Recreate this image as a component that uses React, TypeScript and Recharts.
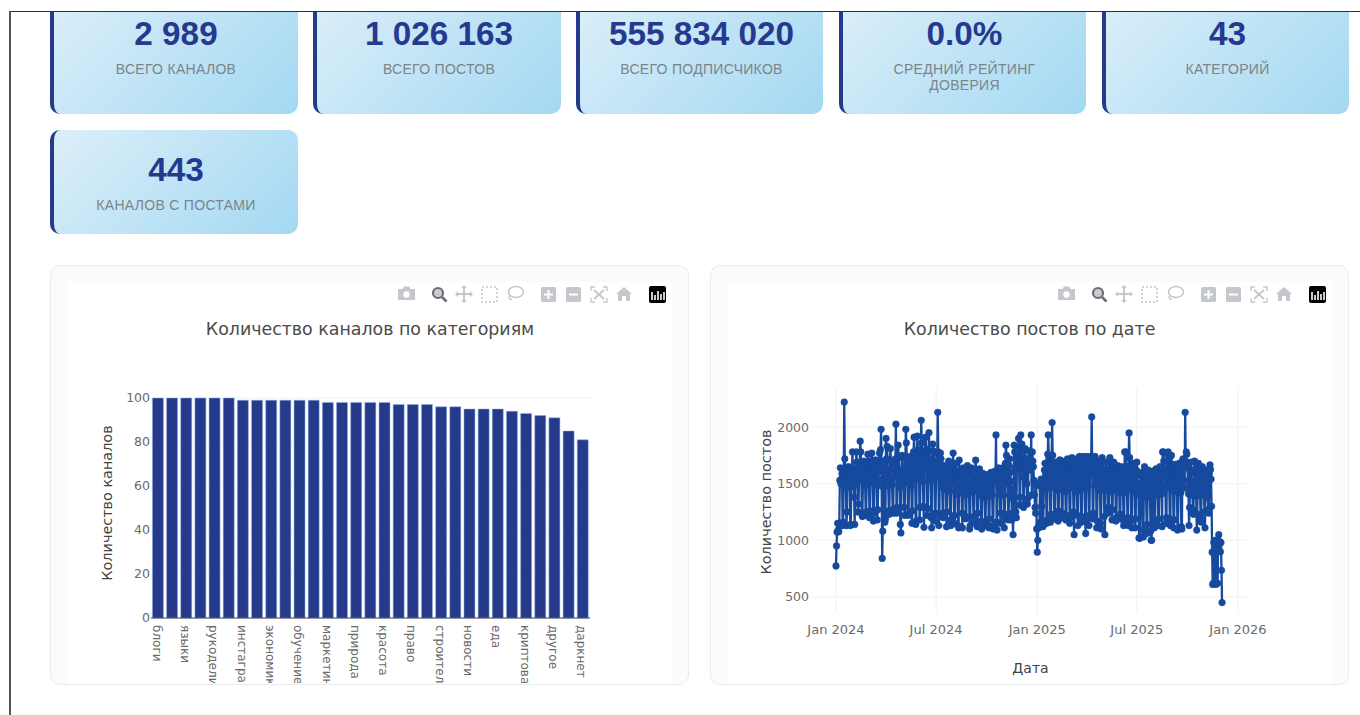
import { Bar, BarChart, CartesianGrid, Line, LineChart, XAxis, YAxis } from "recharts"

const statValues = ["2 989", "1 026 163", "555 834 020", "0.0%", "43", "443"]
const statLabels = [
  "ВСЕГО КАНАЛОВ",
  "ВСЕГО ПОСТОВ",
  "ВСЕГО ПОДПИСЧИКОВ",
  "СРЕДНИЙ РЕЙТИНГ ДОВЕРИЯ",
  "КАТЕГОРИЙ",
  "КАНАЛОВ С ПОСТАМИ",
]

// every second bar is labelled in the original, the others are unknown
const categories = [
  "блоги", "", "языки", "", "рукоделие", "", "инстаграм", "", "экономика", "", "обучение", "",
  "маркетинг", "", "природа", "", "красота", "", "право", "", "строительство", "", "новости", "",
  "еда", "", "криптовалюта", "", "другое", "", "даркнет",
]
const channelCounts = [
  100, 100, 100, 100, 100, 100, 99, 99, 99, 99, 99, 99, 98, 98, 98, 98, 98, 97, 97, 97, 96, 96, 95,
  95, 95, 94, 93, 92, 91, 85, 81,
]
const channelTicks = [0, 20, 40, 60, 80, 100]

const DAY = 86400000
const firstPostDay = Date.UTC(2024, 0, 1)
const postTicks = [500, 1000, 1500, 2000]
const dateTicks = [
  Date.UTC(2024, 0, 1),
  Date.UTC(2024, 6, 1),
  Date.UTC(2025, 0, 1),
  Date.UTC(2025, 6, 1),
  Date.UTC(2026, 0, 1),
]
const dateTickLabels = ["Jan 2024", "Jul 2024", "Jan 2025", "Jul 2025", "Jan 2026"]

// daily posts, one row per week (Mon..Sun)
const postCounts = [
  773, 950, 1073, 1150, 1090, 1075, 1150,
  1530, 1640, 1500, 1520, 1590, 1130, 1160,
  1480, 2221, 1720, 1640, 1560, 1130, 1250,
  1620, 1510, 1650, 1580, 1470, 1130, 1140,
  1590, 1640, 1780, 1550, 1480, 1380, 1140,
  1610, 1500, 1780, 1690, 1530, 1250, 1320,
  1560, 1640, 1875, 1780, 1600, 1240, 1210,
  1520, 1660, 1700, 1610, 1490, 1220, 1250,
  1550, 1680, 1760, 1620, 1500, 1200, 1260,
  1590, 1700, 1770, 1640, 1530, 1170, 1240,
  1600, 1680, 1710, 1560, 1500, 1180, 1270,
  1540, 1660, 1770, 1610, 1800, 1980, 1480,
  840, 1080, 1660, 1700, 1550, 1160, 1190,
  1900, 1720, 1830, 1600, 1480, 1260, 1230,
  1620, 1810, 1700, 1540, 1490, 1270, 1240,
  1560, 1680, 1640, 1720, 2025, 1240, 1290,
  1610, 1840, 1740, 1620, 1470, 1140, 1065,
  1600, 1750, 1730, 1540, 1500, 1290, 1220,
  1640, 1980, 1860, 1680, 1520, 1230, 1220,
  1560, 1700, 1740, 1620, 1480, 1150, 1260,
  1690, 1780, 1910, 1750, 1540, 1140, 1170,
  1700, 1920, 1780, 1800, 1610, 1180, 1290,
  1770, 2060, 1860, 1750, 1520, 1300, 1115,
  1680, 1790, 1910, 1800, 1640, 1220, 1280,
  1700, 1950, 1790, 1680, 1530, 1200, 1110,
  1720, 1850, 1790, 1640, 1560, 1170, 1240,
  1560, 1770, 1700, 2130, 1780, 1130, 1220,
  1680, 1770, 1720, 1560, 1470, 1240, 1200,
  1600, 1660, 1610, 1540, 1450, 1120, 1250,
  1640, 1600, 1700, 1510, 1430, 1180, 1130,
  1620, 1590, 1650, 1770, 1500, 1220, 1150,
  1590, 1680, 1560, 1520, 1410, 1130, 1110,
  1708, 1620, 1560, 1500, 1440, 1240, 1110,
  1560, 1640, 1600, 1490, 1400, 1190, 1210,
  1640, 1660, 1570, 1480, 1420, 1100, 1130,
  1610, 1640, 1580, 1500, 1430, 1210, 1160,
  1590, 1620, 1708, 1540, 1450, 1120, 1240,
  1550, 1600, 1630, 1480, 1400, 1170, 1100,
  1570, 1590, 1560, 1470, 1380, 1150, 1130,
  1530, 1580, 1540, 1460, 1390, 1110, 1190,
  1560, 1590, 1600, 1480, 1400, 1130, 1100,
  1520, 1570, 1610, 1550, 1930, 1160, 1090,
  1560, 1640, 1580, 1490, 1410, 1150, 1240,
  1550, 1620, 1640, 1500, 1400, 1110, 1200,
  1680, 1840, 1750, 1600, 1500, 1230, 1180,
  1660, 1720, 1600, 1520, 1380, 1180, 1240,
  1050, 1450, 1840, 1780, 1640, 1250, 1200,
  1700, 1800, 1760, 1900, 1640, 1310, 1380,
  1930, 1780, 1850, 1700, 1560, 1290, 1320,
  1720, 1810, 1700, 1620, 1500, 1320, 1370,
  1690, 1790, 1730, 1620, 1640, 1930, 1400,
  1780, 1700, 1650, 1530, 1400, 1290, 1240,
  1500, 1100, 895, 1000, 1120, 1110, 1150,
  1480, 1160, 1540, 1300, 1440, 1120, 1130,
  1520, 1620, 1680, 1580, 1470, 1150, 1180,
  1760, 1930, 1720, 1580, 1460, 1160, 1230,
  1680, 2040, 1750, 1640, 1500, 1230, 1190,
  1640, 1690, 1620, 1530, 1440, 1170, 1260,
  1600, 1710, 1660, 1560, 1450, 1200, 1240,
  1650, 1640, 1700, 1550, 1430, 1180, 1220,
  1590, 1720, 1650, 1560, 1460, 1150, 1200,
  1620, 1680, 1730, 1610, 1480, 1250, 1050,
  1640, 1700, 1610, 1520, 1430, 1220, 1130,
  1730, 1650, 1740, 1590, 1470, 1160, 1210,
  1650, 1740, 1680, 1570, 1460, 1170, 1060,
  1610, 1740, 1690, 1600, 1480, 1130, 1220,
  1660, 1740, 1690, 2090, 1590, 1190, 1240,
  1640, 1720, 1740, 1580, 1490, 1110, 1170,
  1680, 1700, 1630, 1550, 1440, 1150, 1100,
  1640, 1730, 1590, 1540, 1470, 1210, 1050,
  1590, 1690, 1620, 1520, 1440, 1240, 1290,
  1600, 1730, 1640, 1540, 1430, 1180, 1270,
  1650, 1690, 1610, 1530, 1450, 1170, 1200,
  1580, 1660, 1640, 1510, 1420, 1190, 1230,
  1620, 1650, 1600, 1530, 1420, 1130, 1160,
  1780, 1600, 1780, 1560, 1440, 1200, 1130,
  1650, 1948, 1730, 1600, 1460, 1170, 1110,
  1640, 1680, 1610, 1500, 1430, 1110, 1190,
  1620, 1690, 1580, 1500, 1410, 1020, 1020,
  1020, 1570, 1600, 1510, 1400, 1090, 1030,
  1560, 1650, 1590, 1480, 1380, 1060, 1140,
  1540, 1620, 1560, 1470, 1390, 1080, 1000,
  1000, 1580, 1610, 1500, 1420, 1110, 1170,
  1550, 1630, 1620, 1520, 1400, 1130, 1190,
  1600, 1650, 1580, 1490, 1410, 1120, 1780,
  1780, 1700, 1640, 1550, 1450, 1150, 1200,
  1760, 1700, 1780, 1620, 1470, 1190, 1130,
  1640, 1750, 1670, 1560, 1440, 1110, 1180,
  1620, 1670, 1610, 1520, 1430, 1090, 1100,
  1590, 1680, 1620, 1510, 1420, 1120, 1100,
  1700, 1720, 1640, 1530, 1460, 2130, 1680,
  1780, 1760, 1640, 1520, 1410, 1130, 1290,
  1620, 1690, 1600, 1500, 1400, 1270, 1230,
  1610, 1700, 1630, 1510, 1390, 1090, 1230,
  1590, 1680, 1610, 1500, 1430, 1200, 1160,
  1570, 1650, 1590, 1480, 1400, 1250, 1110,
  1580, 1620, 1560, 1470, 1380, 1270, 1240,
  1590, 1665, 1625, 1540, 1300, 895, 610,
  620, 980, 990, 1000, 620, 610, 1000,
  960, 620, 1000, 1050, 960, 985, 900,
  980, 735, 450,
]

const barData = categories.map((name, i) => ({ name, count: channelCounts[i] }))
const lineData = postCounts.map((posts, i) => ({ day: firstPostDay + i * DAY, posts }))

const plotFont = "'DejaVu Sans', Verdana, sans-serif"
const xTickStyle = { fontSize: 13, fill: "#6a6a6a", fontFamily: plotFont }
const yTickStyle = { fontSize: 12.5, fill: "#6a6a6a", fontFamily: plotFont }

const cardBoxes = [
  { left: 50, top: -6, width: 248, height: 120 },
  { left: 313, top: -6, width: 248, height: 120 },
  { left: 576, top: -6, width: 247, height: 120 },
  { left: 839, top: -6, width: 247, height: 120 },
  { left: 1102, top: -6, width: 247, height: 120 },
  { left: 50, top: 130, width: 248, height: 104 },
]

function StatCard({ index }: { index: number }) {
  const box = cardBoxes[index]
  return (
    <div
      style={{
        position: "absolute",
        ...box,
        boxSizing: "border-box",
        borderLeft: "4px solid #253a8a",
        borderRadius: 10,
        background: "linear-gradient(135deg, #dceff9 0%, #a3d8f2 100%)",
        textAlign: "center",
        fontFamily: "'Liberation Sans', Arial, sans-serif",
      }}
    >
      <div style={{ marginTop: 21, fontSize: 33.3, lineHeight: "38px", fontWeight: 700, color: "#25398f" }}>
        {statValues[index]}
      </div>
      <div style={{ margin: "8px 30px 0", fontSize: 14, lineHeight: "16px", letterSpacing: 0.3, color: "#7b8489" }}>
        {statLabels[index]}
      </div>
    </div>
  )
}

function ModeBar({ left }: { left: number }) {
  const grey = "#c4c8cc"
  return (
    <svg width={280} height={24} style={{ position: "absolute", left, top: 283 }}>
      {/* camera */}
      <path d="M3 6h4.5l1.5-2.5h5L15.500 6H20v11H3z" fill={grey} />
      <circle cx={11.500} cy={11.500} r={3.2} fill="#fff" />
      {/* zoom, active */}
      <circle cx={43} cy={10} r={5} fill="#c9ccd0" stroke="#6b6f74" strokeWidth={2.2} />
      <path d="M47 14l4.500 4.500" stroke="#6b6f74" strokeWidth={2.6} />
      {/* pan */}
      <path d="M69 4v14M62 11h14" stroke={grey} strokeWidth={2} />
      <path d="M69 2l3 3h-6zM69 20l3-3h-6zM60 11l3-3v6zM78 11l-3-3v6z" fill={grey} />
      <g transform="translate(1 0)">
        {/* box select */}
        <rect x={86} y={4} width={15} height={15} fill="none" stroke={grey} strokeWidth={1.6} strokeDasharray="2 2" />
        {/* lasso */}
        <ellipse cx={120} cy={9} rx={7.5} ry={5.500} fill="none" stroke={grey} strokeWidth={1.6} />
        <path d="M114 12c-2 3 0 5 2 4" fill="none" stroke={grey} strokeWidth={1.4} />
        {/* zoom in, out */}
        <rect x={145} y={4} width={15} height={15} rx={1.5} fill={grey} />
        <path d="M148 11.500h9M152.500 7v9" stroke="#fff" strokeWidth={2} />
        <rect x={170} y={4} width={15} height={15} rx={1.5} fill={grey} />
        <path d="M173 11.500h9" stroke="#fff" strokeWidth={2} />
        {/* autoscale */}
        <path d="M195 8V4h4M207 4h4v4M195 15v4h4M211 15v4h-4" fill="none" stroke={grey} strokeWidth={1.3} />
        <path d="M198 7l10 9M208 7l-10 9" stroke={grey} strokeWidth={1.8} />
        {/* home */}
        <path d="M220 11l8-7 8 7h-2v7h-4v-5h-4v5h-4v-7z" fill={grey} />
        {/* plotly logo */}
        <rect x={253} y={3} width={17} height={17} rx={2} fill="#000" />
        <path d="M256 9v8M259 12v5M262 8v9M265 11v6M268 9v8" stroke="#fff" strokeWidth={1.6} />
      </g>
    </svg>
  )
}

function Panel({ left }: { left: number }) {
  return (
    <div
      style={{
        position: "absolute",
        left,
        top: 265,
        width: 639,
        height: 420,
        boxSizing: "border-box",
        border: "1px solid #e9ecef",
        borderRadius: 10,
        background: "#fafbfb",
      }}
    >
      <div style={{ position: "absolute", left: 16, top: 16, right: 15, bottom: 0, background: "#fff" }} />
    </div>
  )
}

function PlotTitle({ left, width, text }: { left: number; width: number; text: string }) {
  return (
    <div
      style={{
        position: "absolute",
        left,
        top: 318,
        width,
        textAlign: "center",
        fontFamily: plotFont,
        fontSize: 17.4,
        lineHeight: "22px",
        color: "#4a4a4a",
      }}
    >
      {text}
    </div>
  )
}

function CategoryTick({ x, y, payload }: any) {
  return (
    <text
      transform={`translate(${x - 1.5},${y}) rotate(90)`}
      dominantBaseline="central"
      fontSize={12}
      fill="#6a6a6a"
      fontFamily={plotFont}
    >
      {payload.value}
    </text>
  )
}

function AxisTitle({ titleX, titleY, text }: { titleX: number; titleY: number; text: string }) {
  return (
    <text
      transform={`translate(${titleX},${titleY}) rotate(-90)`}
      textAnchor="middle"
      dominantBaseline="central"
      fontSize={14.4}
      fill="#444"
      fontFamily={plotFont}
    >
      {text}
    </text>
  )
}

export default function App() {
  return (
    <div style={{ position: "absolute", left: 0, top: 0, width: 1360, height: 715, background: "#fff", overflow: "hidden" }}>
      <div style={{ position: "absolute", left: 9, top: 11, right: 0, bottom: 0, overflow: "hidden", borderLeft: "2px solid #555", borderTop: "1.5px solid #333" }}>
        <div style={{ position: "absolute", left: -11, top: -12.5, width: 1360, height: 715 }}>
          {cardBoxes.map((_, i) => (
            <StatCard key={i} index={i} />
          ))}
          <Panel left={50} />
          <Panel left={710} />
          <ModeBar left={395} />
          <ModeBar left={1055} />
          <PlotTitle left={67} width={606} text="Количество каналов по категориям" />
          <PlotTitle left={726} width={607} text="Количество постов по дате" />

          <div style={{ position: "absolute", left: 67, top: 282, width: 606, height: 401, overflow: "hidden" }}>
            <BarChart
              width={606}
              height={401}
              data={barData}
              margin={{ top: 116, right: 83, bottom: 0, left: 0 }}
              barCategoryGap="10%"
            >
              <CartesianGrid stroke="#eef1f4" vertical={false} />
              <XAxis
                dataKey="name"
                interval={0}
                height={65}
                tick={<CategoryTick />}
                tickLine={false}
                tickSize={0}
                tickMargin={7}
                axisLine={{ stroke: "#444", strokeWidth: 1.2 }}
              />
              <YAxis
                width={84}
                domain={[0, 100]}
                ticks={channelTicks}
                tick={yTickStyle}
                tickLine={false}
                tickSize={0}
                tickMargin={1}
                axisLine={false}
                label={<AxisTitle titleX={40} titleY={221} text="Количество каналов" />}
              />
              <Bar dataKey="count" fill="#253a8a" stroke="#8fb4e6" strokeWidth={0.5} isAnimationActive={false} />
            </BarChart>
          </div>

          <div style={{ position: "absolute", left: 726, top: 282, width: 607, height: 403 }}>
            <LineChart
              width={607}
              height={403}
              data={lineData}
              margin={{ top: 105, right: 85, bottom: 0, left: 0 }}
            >
              <CartesianGrid stroke="#eef1f4" syncWithTicks />
              <XAxis
                dataKey="day"
                type="number"
                domain={[firstPostDay - 41.8 * DAY, firstPostDay + 749.2 * DAY]}
                ticks={dateTicks}
                tickFormatter={(t: number) => dateTickLabels[dateTicks.indexOf(t)]}
                tick={xTickStyle}
                tickLine={false}
                axisLine={false}
                tickMargin={6}
                height={72}
                interval={0}
                label={{
                  value: "Дата",
                  position: "insideBottom",
                  offset: 12,
                  style: { fontSize: 14, fill: "#444", fontFamily: plotFont },
                }}
              />
              <YAxis
                width={87}
                domain={[358, 2354]}
                ticks={postTicks}
                tick={yTickStyle}
                tickLine={false}
                tickSize={0}
                tickMargin={4}
                axisLine={false}
                allowDataOverflow
                label={<AxisTitle titleX={40} titleY={220} text="Количество постов" />}
              />
              <Line
                dataKey="posts"
                type="linear"
                stroke="#164a9e"
                strokeWidth={2.3}
                dot={{ r: 3.4, fill: "#164a9e", stroke: "#164a9e", strokeWidth: 0.4 }}
                isAnimationActive={false}
              />
            </LineChart>
          </div>
        </div>
      </div>
    </div>
  )
}
